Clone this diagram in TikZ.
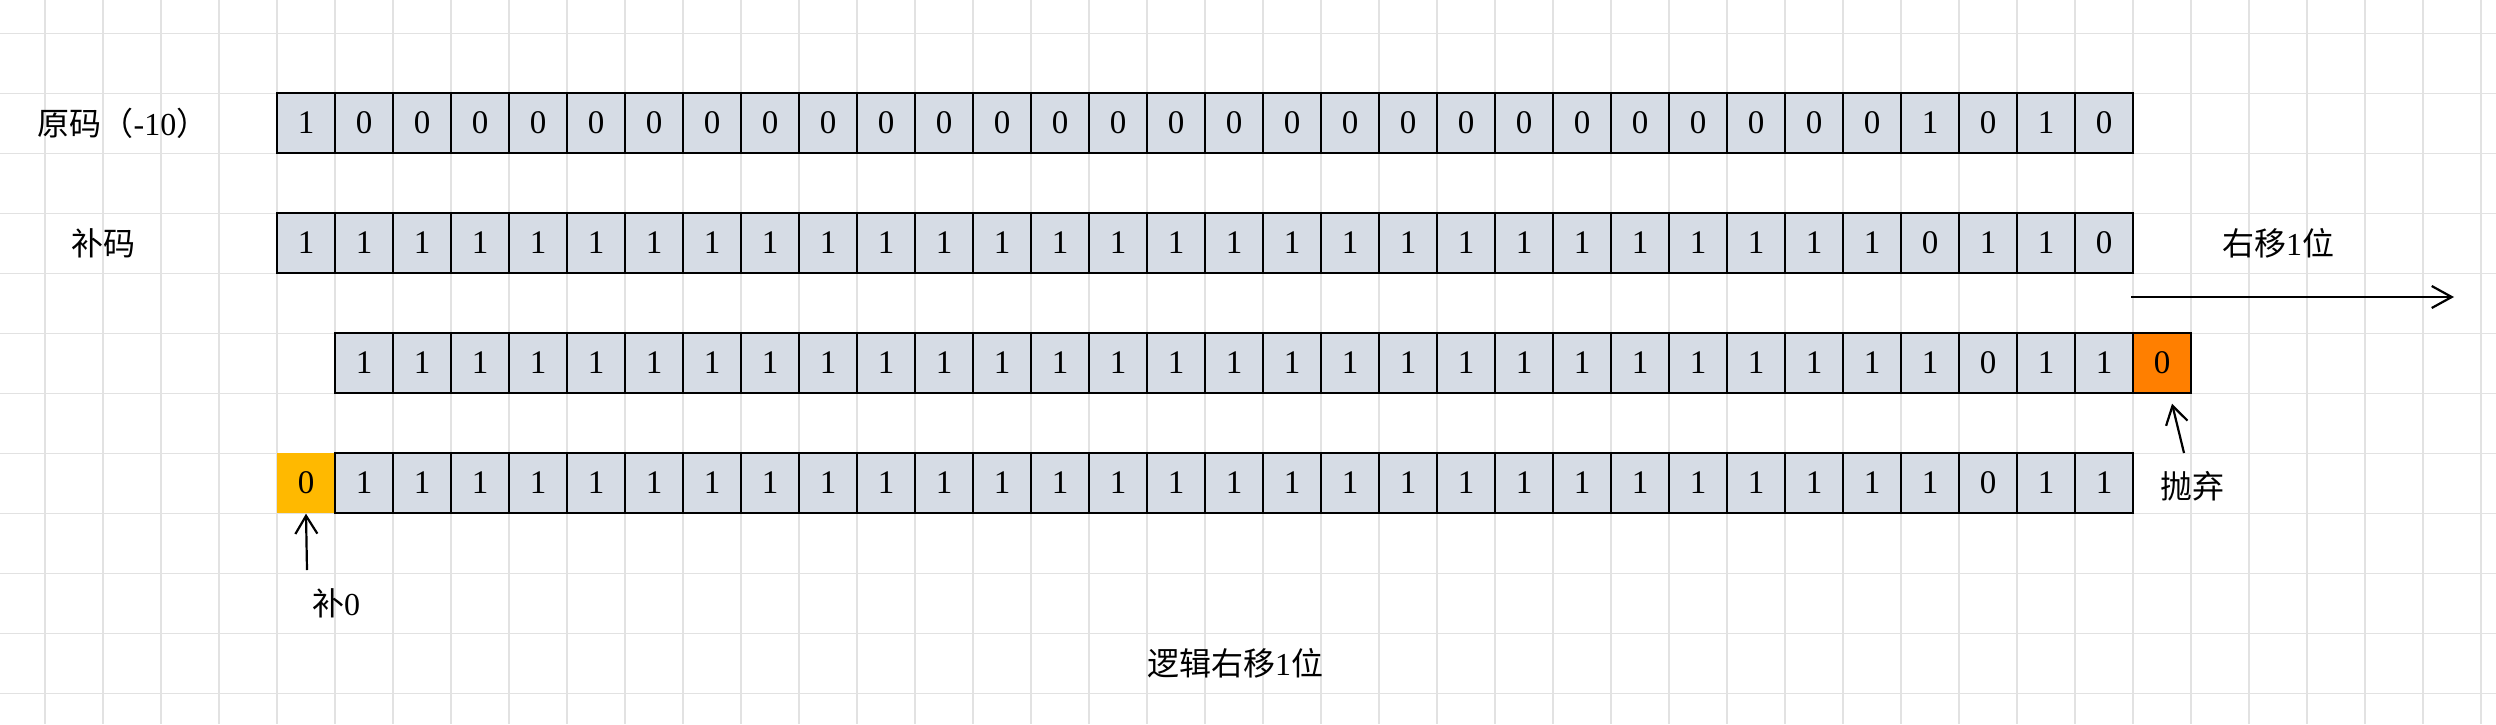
\documentclass[tikz,border=0pt]{standalone}
\usepackage{fontspec}
\setmainfont{Liberation Serif}
\newfontfamily\cjk{Noto Sans CJK SC}
\usetikzlibrary{arrows.meta}
\definecolor{cellgray}{HTML}{D6DCE5}
\definecolor{gridgray}{HTML}{E2E2E2}
\definecolor{discardorange}{HTML}{FF7F00}
\definecolor{padgold}{HTML}{FFB900}
\begin{document}
\begin{tikzpicture}[x=0.5pt,y=-0.5pt,
  bitcell/.style={draw=black, line width=0.7pt, fill=cellgray, minimum width=29pt, minimum height=30pt, inner sep=0pt, font=\fontsize{16.5}{18}\selectfont},
  lbl/.style={inner sep=0pt, font=\fontsize{16}{18}\selectfont},
  gridline/.style={draw=gridgray, line width=0.6pt},
  arr/.style={line width=1.1pt, -{Straight Barb[length=10pt,width=11pt]}},
  arrsmall/.style={line width=1.1pt, -{Straight Barb[length=9pt,width=11pt]}}
]
\useasboundingbox (0,0) rectangle (2496,724);
\fill[white] (0,0) rectangle (2496,724);
% background grid
\foreach \k in {0,...,42} \draw[gridline] (45+58*\k,0) -- (45+58*\k,724);
\foreach \k in {0,...,11} \draw[gridline] (0,33.3+60*\k) -- (2496,33.3+60*\k);

% row 1: sign-magnitude
\foreach \b [count=\i from 0] in {1,0,0,0,0,0,0,0,0,0,0,0,0,0,0,0,0,0,0,0,0,0,0,0,0,0,0,0,1,0,1,0}
  \node[bitcell] (a\i) at (306+58*\i,123) {\b};
% row 2: two's complement
\foreach \b [count=\i from 0] in {1,1,1,1,1,1,1,1,1,1,1,1,1,1,1,1,1,1,1,1,1,1,1,1,1,1,1,1,0,1,1,0}
  \node[bitcell] (b\i) at (306+58*\i,243) {\b};
% row 3: shifted
\foreach \b [count=\i from 1] in {1,1,1,1,1,1,1,1,1,1,1,1,1,1,1,1,1,1,1,1,1,1,1,1,1,1,1,1,0,1,1}
  \node[bitcell] (c\i) at (306+58*\i,363) {\b};
\node[bitcell, fill=discardorange] (c32) at (306+58*32,363) {0};
% row 4: result
\node[bitcell, fill=padgold, draw=none] (d0) at (306,483) {0};
\foreach \b [count=\i from 1] in {1,1,1,1,1,1,1,1,1,1,1,1,1,1,1,1,1,1,1,1,1,1,1,1,1,1,1,1,0,1,1}
  \node[bitcell] (d\i) at (306+58*\i,483) {\b};

% labels
\node[lbl] (orig) at (123,123) {{\cjk 原码（}-10{\cjk ）}};
\node[lbl] (comp) at (103,243) {\cjk 补码};
\node[lbl] (shiftlbl) at (2278,243) {{\cjk 右移}1{\cjk 位}};
\node[lbl] (disc) at (2192,486) {\cjk 抛弃};
\node[lbl] (pad) at (336,603) {{\cjk 补}0};
\node[lbl] (title) at (1235,663) {{\cjk 逻辑右移}1{\cjk 位}};

% arrows
\coordinate (shiftS) at (2131,297);
\coordinate (shiftE) at (2454,297);
\draw[arr] (shiftS) -- (shiftE);
\coordinate (discT) at (2184,453);
\draw[arrsmall] (discT) -- ([xshift=5pt,yshift=-5pt]c32.south);
\coordinate (padT) at (307,570);
\draw[arrsmall] (padT) -- (d0.south);
\end{tikzpicture}
\end{document}
